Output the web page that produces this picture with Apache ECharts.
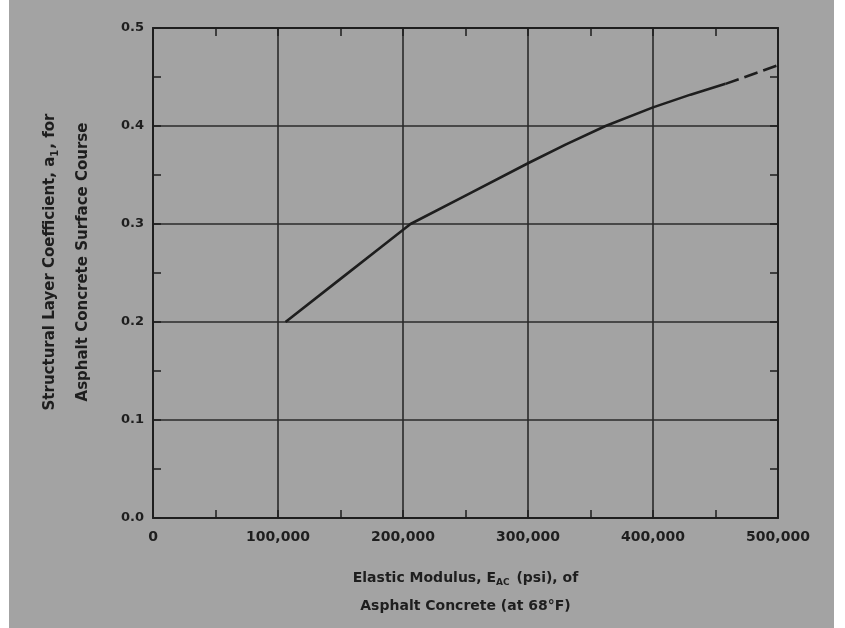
<!DOCTYPE html>
<html>
<head>
<meta charset="utf-8">
<script src="https://cdn.jsdelivr.net/npm/echarts@6/dist/echarts.min.js"></script>
<style>
html,body{margin:0;padding:0;background:#fff;}
#c{width:845px;height:628px;background:linear-gradient(to right,#ffffff 0,#ffffff 9px,#a3a3a3 9px,#a3a3a3 834px,#ffffff 834px);}
</style>
</head>
<body>
<div id="c"></div>
<script>
// Data
const solidCurve = [
  [106000, 0.200],
  [150000, 0.244],
  [180000, 0.274],
  [206000, 0.300],
  [250000, 0.329],
  [300000, 0.362],
  [330000, 0.381],
  [362000, 0.400],
  [400000, 0.419],
  [430000, 0.432],
  [458000, 0.443]
];
const dashedCurve = [
  [458000, 0.443],
  [500000, 0.462]
];
const xTicks = [0, 100000, 200000, 300000, 400000, 500000];
const yTicks = [0.0, 0.1, 0.2, 0.3, 0.4, 0.5];

const ink = '#1e1e1e';
const font = 'DejaVu Sans';

const chart = echarts.init(document.getElementById('c'), null, {renderer: 'canvas'});

function fmtX(v){ return v === 0 ? '0' : v.toLocaleString('en-US'); }

function axisCommon(){
  return {
    axisLine: {show: true, onZero: false, lineStyle: {color: ink, width: 2}},
    axisTick: {show: true, inside: true, length: 8, lineStyle: {color: ink, width: 1.5}},
    minorTick: {show: true, splitNumber: 2, length: 8, lineStyle: {color: ink, width: 1.5}},
    splitLine: {show: false},
    minorSplitLine: {show: false}
  };
}

chart.setOption({
  backgroundColor: 'transparent',
  animation: false,
  grid: {left: 153, right: 67, top: 28, bottom: 110, containLabel: false},
  xAxis: [
    Object.assign(axisCommon(), {
      type: 'value', position: 'bottom', min: xTicks[0], max: xTicks[xTicks.length-1], interval: 100000,
      splitLine: {show: true, lineStyle: {color: '#2a2a2a', width: 1.6}},
      axisLabel: {color: ink, fontFamily: font, fontSize: 14, fontWeight: 'bold', margin: 12, formatter: fmtX},
      name: '{t|Elastic Modulus, E}{s|AC}{t| (psi), of}\n{t|Asphalt Concrete (at 68°F)}',
      nameLocation: 'middle', nameGap: 46,
      nameTextStyle: {
        color: ink, fontFamily: font, fontSize: 14, lineHeight: 28,
        rich: {
          t: {color: ink, fontFamily: font, fontSize: 14, fontWeight: 'bold', lineHeight: 28},
          s: {color: ink, fontFamily: font, fontSize: 9, fontWeight: 'bold', padding: [10, 2, 0, 0], lineHeight: 28}
        }
      }
    }),
    Object.assign(axisCommon(), {
      type: 'value', position: 'top', min: xTicks[0], max: xTicks[xTicks.length-1], interval: 100000,
      axisLabel: {show: false}
    })
  ],
  yAxis: [
    Object.assign(axisCommon(), {
      type: 'value', position: 'left', min: yTicks[0], max: yTicks[yTicks.length-1], interval: 0.1,
      splitLine: {show: true, lineStyle: {color: '#2a2a2a', width: 1.6}},
      axisLabel: {color: ink, fontFamily: font, fontSize: 13, fontWeight: 'bold', margin: 9, formatter: v => v.toFixed(1)},
      name: '{t|Structural Layer Coefficient, a}{s|1}{t|, for}\n{t|Asphalt Concrete Surface Course}',
      nameLocation: 'middle', nameGap: 53,
      nameTextStyle: {
        color: ink, fontFamily: font, fontSize: 15, lineHeight: 33, padding: [0, 0, 0, 22],
        rich: {
          t: {color: ink, fontFamily: font, fontSize: 15, fontWeight: 'bold', lineHeight: 33},
          s: {color: ink, fontFamily: font, fontSize: 10, fontWeight: 'bold', padding: [10, 1, 0, 0], lineHeight: 33}
        }
      }
    }),
    Object.assign(axisCommon(), {
      type: 'value', position: 'right', min: yTicks[0], max: yTicks[yTicks.length-1], interval: 0.1,
      axisLabel: {show: false}
    })
  ],
  series: [
    {
      type: 'line', data: solidCurve, smooth: false, symbol: 'none',
      lineStyle: {color: ink, width: 2.6, join: 'round'}, z: 5
    },
    {
      type: 'line', data: dashedCurve, smooth: false, symbol: 'none',
      lineStyle: {color: ink, width: 2.6, type: [14, 6]}, z: 5
    }
  ]
});
</script>
</body>
</html>
